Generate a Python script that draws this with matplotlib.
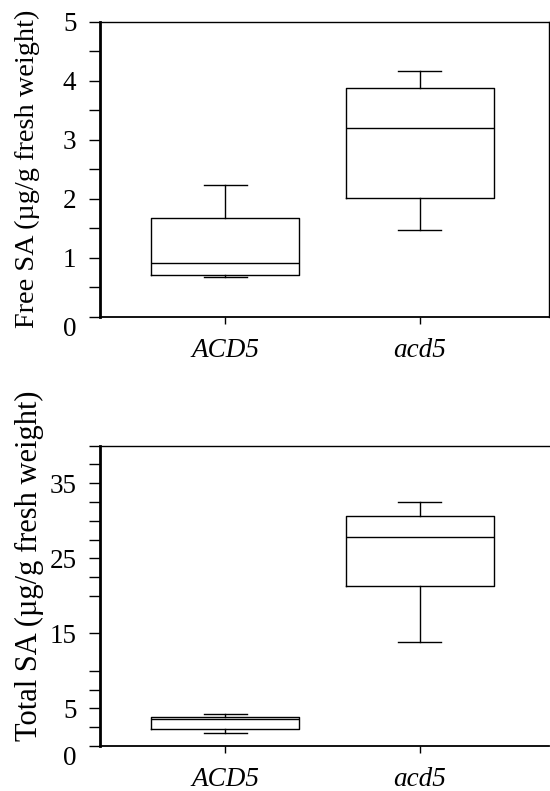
import matplotlib
matplotlib.use("Agg")
import matplotlib.pyplot as plt
import matplotlib.transforms as mtransforms

# genotypes on the x axis
genotypes = ["ACD5", "acd5"]

# free SA box stats (ug/g fresh weight)
free_whislo = [0.67, 1.47]
free_q1 = [0.71, 2.02]
free_med = [0.91, 3.19]
free_q3 = [1.68, 3.87]
free_whishi = [2.23, 4.16]

# total SA box stats (ug/g fresh weight)
total_whislo = [1.7, 13.8]
total_q1 = [2.27, 21.3]
total_med = [3.65, 27.9]
total_q3 = [3.92, 30.6]
total_whishi = [4.25, 32.5]

free_ticks = [0, 0.5, 1, 1.5, 2, 2.5, 3, 3.5, 4, 4.5, 5]
free_labels = ["0", "", "1", "", "2", "", "3", "", "4", "", "5"]
total_ticks = [0, 2.5, 5, 7.5, 10, 15, 20, 22.5, 25, 27.5, 30, 32.5, 35, 37.5, 40]
total_labels = ["0", "", "5", "", "", "15", "", "", "25", "", "", "", "35", "", ""]

plt.rcParams['font.family'] = ['Liberation Serif', 'DejaVu Serif']
plt.rcParams['font.size'] = 19.5

fig = plt.figure(figsize=(5.5, 7.91), dpi=100)
ax1 = fig.add_axes([0.1818, 0.5996, 0.8164, 0.373])
ax2 = fig.add_axes([0.1818, 0.0569, 0.8164, 0.3796])


def make_stats(lo, q1, med, q3, hi):
    stats = []
    for i in range(len(genotypes)):
        stats.append({"label": genotypes[i], "whislo": lo[i], "q1": q1[i], "med": med[i],
                      "q3": q3[i], "whishi": hi[i], "fliers": []})
    return stats


line = dict(color="black", linewidth=1.0)
for ax, stats in [(ax1, make_stats(free_whislo, free_q1, free_med, free_q3, free_whishi)),
                  (ax2, make_stats(total_whislo, total_q1, total_med, total_q3, total_whishi))]:
    ax.bxp(stats, positions=[1, 2], widths=0.763, capwidths=0.22, showfliers=False,
           boxprops=line, medianprops=line, whiskerprops=line, capprops=line)
    ax.set_xlim(0.356, 2.665)
    ax.set_xticks([1, 2])
    ax.set_xticklabels(genotypes, style="italic")
    ax.tick_params(axis="x", direction="out", length=5, width=1, pad=10)
    ax.tick_params(axis="y", direction="out", length=8, width=1, pad=9)
    ax.spines["left"].set_linewidth(2.0)
    ax.spines["bottom"].set_linewidth(1.3)
    ax.spines["top"].set_linewidth(1.0)
    ax.spines["right"].set_linewidth(1.0)

ax1.set_ylim(0, 5)
ax1.set_yticks(free_ticks)
ax1.set_yticklabels(free_labels)
ax1.set_ylabel("Free SA (µg/g fresh weight)", fontsize=20.3)
ax1.yaxis.set_label_coords(-0.134, 0.5)

ax2.set_ylim(0, 40)
ax2.set_yticks(total_ticks)
ax2.set_yticklabels(total_labels)
ax2.spines["right"].set_visible(False)
ax2.set_ylabel("Total SA (µg/g fresh weight)", fontsize=22)
ax2.yaxis.set_label_coords(-0.125, 0.6)

# the zero labels sit a little below their ticks in the original
for ax in (ax1, ax2):
    lab = ax.get_yticklabels()[0]
    lab.set_transform(lab.get_transform() + mtransforms.ScaledTranslation(0, -10 / 100, fig.dpi_scale_trans))

fig.savefig("out.png", dpi=100)
